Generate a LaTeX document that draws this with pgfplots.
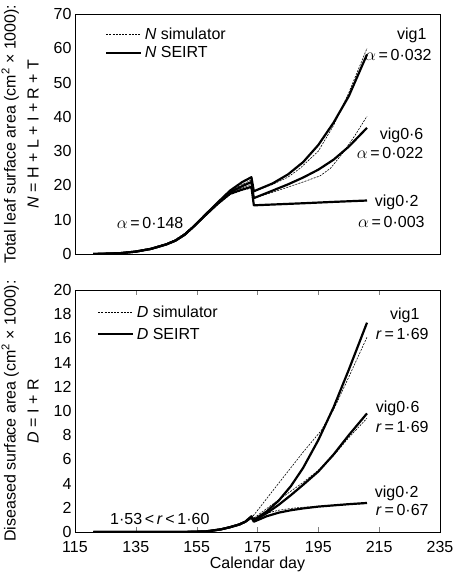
\documentclass[border=0pt]{standalone}
\usepackage{fontspec}
\setmainfont{Liberation Sans}
\usepackage{pgfplots}
\pgfplotsset{compat=1.18}
\newcommand{\fs}{\fontsize{16}{19}\selectfont}
\pgfplotsset{
  common/.style={
    scale only axis, width=365pt, height=240pt,
    xmin=115, xmax=235,
    axis line style={line width=0.8pt},
    /pgf/number format/assume math mode=true,
    tick label style={font=\fs},
    label style={font=\fs},
    yticklabel style={inner ysep=0pt},
    ytick style={draw=none},
    clip=true,
    legend cell align=left,
    legend image code/.code={\draw[##1] (0pt,0pt) -- (35pt,0pt);},
  },
  sim/.style={black, line width=0.6pt, dash pattern=on 2pt off 1.2pt},
  seirt/.style={black, line width=2.2pt, line join=round},
}
\begin{document}
\begin{tikzpicture}[x=1pt,y=1pt,font=\fs]
% ---------------- top panel ----------------
\begin{axis}[common, at={(75pt,322pt)}, anchor=south west,
  ymin=0, ymax=70, ytick={0,10,...,70}, xtick=\empty,
  ylabel={Total leaf surface area (cm\textsuperscript{2} × 1000):\\\textit{N} = H + L + I + R + T},
  ylabel style={align=center, font=\fontsize{16}{23}\selectfont, at={(axis description cs:-0.09,0.5)}, anchor=south},
  legend style={draw=none, fill=none, at={(0.082,0.952)}, anchor=north west, font=\fs, row sep=0pt, inner sep=0pt, nodes={inner sep=2.5pt}},
]
\addplot[sim] coordinates {(121,0) (125,0.05) (130,0.3) (135,0.8) (140,1.6) (145,2.9) (148,4.0) (151,5.8) (154,8.1) (158,11.5) (162,14.9) (166,18.2) (170,20.3) (173,21.6) (173.8,18.3) (180,20.3) (185,22.4) (189,25.0) (195,30.0) (200,37.5) (205,47.0) (211,60.0)};
\addlegendentry{\textit{N} simulator}
\addplot[seirt] coordinates {(121,0) (125,0.05) (130,0.25) (135,0.7) (140,1.5) (145,2.8) (148,3.9) (151,5.6) (154,8.0) (158,11.6) (162,15.1) (166,18.5) (170,21.0) (173,22.4) (173.8,18.3) (180,20.6) (185,23.2) (190,26.8) (195,31.8) (200,38.3) (205,46.0) (211,58.2)};
\addlegendentry{\textit{N} SEIRT}
\addplot[sim, forget plot] coordinates {(121,0) (130,0.3) (135,0.8) (140,1.6) (145,3.0) (148,4.1) (151,5.9) (154,8.1) (158,11.4) (162,14.7) (166,17.7) (170,19.3) (173,20.3) (173.8,16.3) (180,18.0) (185,19.5) (190,21.0) (195.6,22.8) (199,25.0) (203,29.4) (207,34.5) (211,40.2)};
\addplot[seirt, forget plot] coordinates {(121,0) (130,0.25) (135,0.7) (140,1.5) (145,2.8) (148,3.9) (151,5.6) (154,8.0) (158,11.5) (162,14.9) (166,18.0) (170,19.8) (173,21.0) (173.8,16.3) (180,18.5) (185,20.3) (190,22.3) (195,24.6) (200,27.5) (205,31.3) (211,36.8)};
\addplot[sim, forget plot] coordinates {(121,0) (130,0.3) (135,0.8) (140,1.7) (145,3.0) (148,4.2) (151,6.0) (154,8.2) (158,11.3) (162,14.5) (166,17.3) (170,18.6) (173,19.2) (173.8,14.2) (190,14.8) (200,15.2) (211,15.5)};
\addplot[seirt, forget plot] coordinates {(121,0) (130,0.25) (135,0.7) (140,1.5) (145,2.8) (148,3.9) (151,5.6) (154,8.0) (158,11.4) (162,14.7) (166,17.6) (170,18.8) (173,19.6) (173.8,14.2) (190,14.8) (200,15.2) (211,15.6)};
\node[anchor=east] at (axis cs:231.7,63.9) {vig1};
\node[anchor=east] at (axis cs:233.4,58.0) {$\alpha$\,=\,0·032};
\node[anchor=east] at (axis cs:230.7,34.7) {vig0·6};
\node[anchor=east] at (axis cs:230.7,29.5) {$\alpha$\,=\,0·022};
\node[anchor=east] at (axis cs:229.1,15.2) {vig0·2};
\node[anchor=east] at (axis cs:231.1,9.3) {$\alpha$\,=\,0·003};
\node at (axis cs:139.7,9.0) {$\alpha$\,=\,0·148};
\end{axis}
% ---------------- bottom panel ----------------
\begin{axis}[common, at={(75pt,44pt)}, anchor=south west, height=242pt,
  ymin=0, ymax=20, ytick={0,2,...,20},
  xtick={115,135,...,235}, tick align=inside, major tick length=5pt,
  xticklabel style={inner ysep=0pt, yshift=-9pt},
  xlabel={Calendar day},
  xlabel style={yshift=-1pt},
  ylabel={Diseased surface area (cm\textsuperscript{2} × 1000):\\\textit{D} = I + R},
  ylabel style={align=center, font=\fontsize{16}{23}\selectfont, at={(axis description cs:-0.09,0.5)}, anchor=south},
  legend style={draw=none, fill=none, at={(0.06,0.946)}, anchor=north west, font=\fs, row sep=4pt, inner sep=0pt, nodes={inner sep=2.5pt}},
]
\addplot[sim] coordinates {(121,0) (140,0) (150,0) (155,0.02) (158,0.05) (160,0.1) (163,0.22) (166,0.4) (169,0.62) (171,0.85) (173,1.2) (173.8,1.4) (180,3.4) (185,5.0) (190,6.6) (196,8.4) (200,10.1) (205,12.8) (211,16.1)};
\addlegendentry{\textit{D} simulator}
\addplot[seirt] coordinates {(121,0) (140,0) (150,0) (155,0.02) (158,0.05) (160,0.1) (163,0.22) (166,0.4) (169,0.62) (171,0.85) (173,1.3) (173.8,1.0) (178,1.7) (182,2.6) (186,3.8) (190,5.3) (195,7.6) (200,10.3) (205,13.4) (211,17.3)};
\addlegendentry{\textit{D} SEIRT}
\addplot[sim, forget plot] coordinates {(121,0) (150,0) (158,0.05) (163,0.22) (166,0.4) (169,0.62) (171,0.85) (173,1.15) (173.8,1.15) (180,2.3) (185,3.2) (190,4.1) (195,5.1) (200,6.3) (205,7.8) (211,9.4)};
\addplot[seirt, forget plot] coordinates {(121,0) (150,0) (158,0.05) (163,0.22) (166,0.4) (169,0.62) (171,0.85) (173,1.25) (173.8,0.95) (178,1.55) (182,2.25) (186,3.05) (190,3.9) (195,5.0) (200,6.4) (205,8.0) (211,9.8)};
\addplot[sim, forget plot] coordinates {(121,0) (150,0) (158,0.05) (163,0.22) (166,0.4) (169,0.62) (171,0.85) (173,1.1) (173.8,1.05) (178,1.55) (182,1.8) (186,1.95) (190,2.05) (195,2.1) (200,2.2) (211,2.35)};
\addplot[seirt, forget plot] coordinates {(121,0) (150,0) (158,0.05) (163,0.22) (166,0.4) (169,0.62) (171,0.85) (173,1.2) (173.8,0.85) (178,1.3) (182,1.6) (186,1.8) (190,1.95) (195,2.1) (200,2.2) (205,2.3) (211,2.4)};
\node[anchor=east] at (axis cs:229.4,17.9) {vig1};
\node[anchor=east] at (axis cs:232.4,16.4) {\textit{r}\,=\,1·69};
\node[anchor=east] at (axis cs:229.4,10.2) {vig0·6};
\node[anchor=east] at (axis cs:232.4,8.7) {\textit{r}\,=\,1·69};
\node[anchor=east] at (axis cs:229.1,3.2) {vig0·2};
\node[anchor=east] at (axis cs:232.4,1.8) {\textit{r}\,=\,0·67};
\node at (axis cs:142.9,1.07) {1·53\,<\,\textit{r}\,<\,1·60};
\end{axis}
\pgfresetboundingbox
\useasboundingbox (0,0) rectangle (453,576);
\end{tikzpicture}
\end{document}
